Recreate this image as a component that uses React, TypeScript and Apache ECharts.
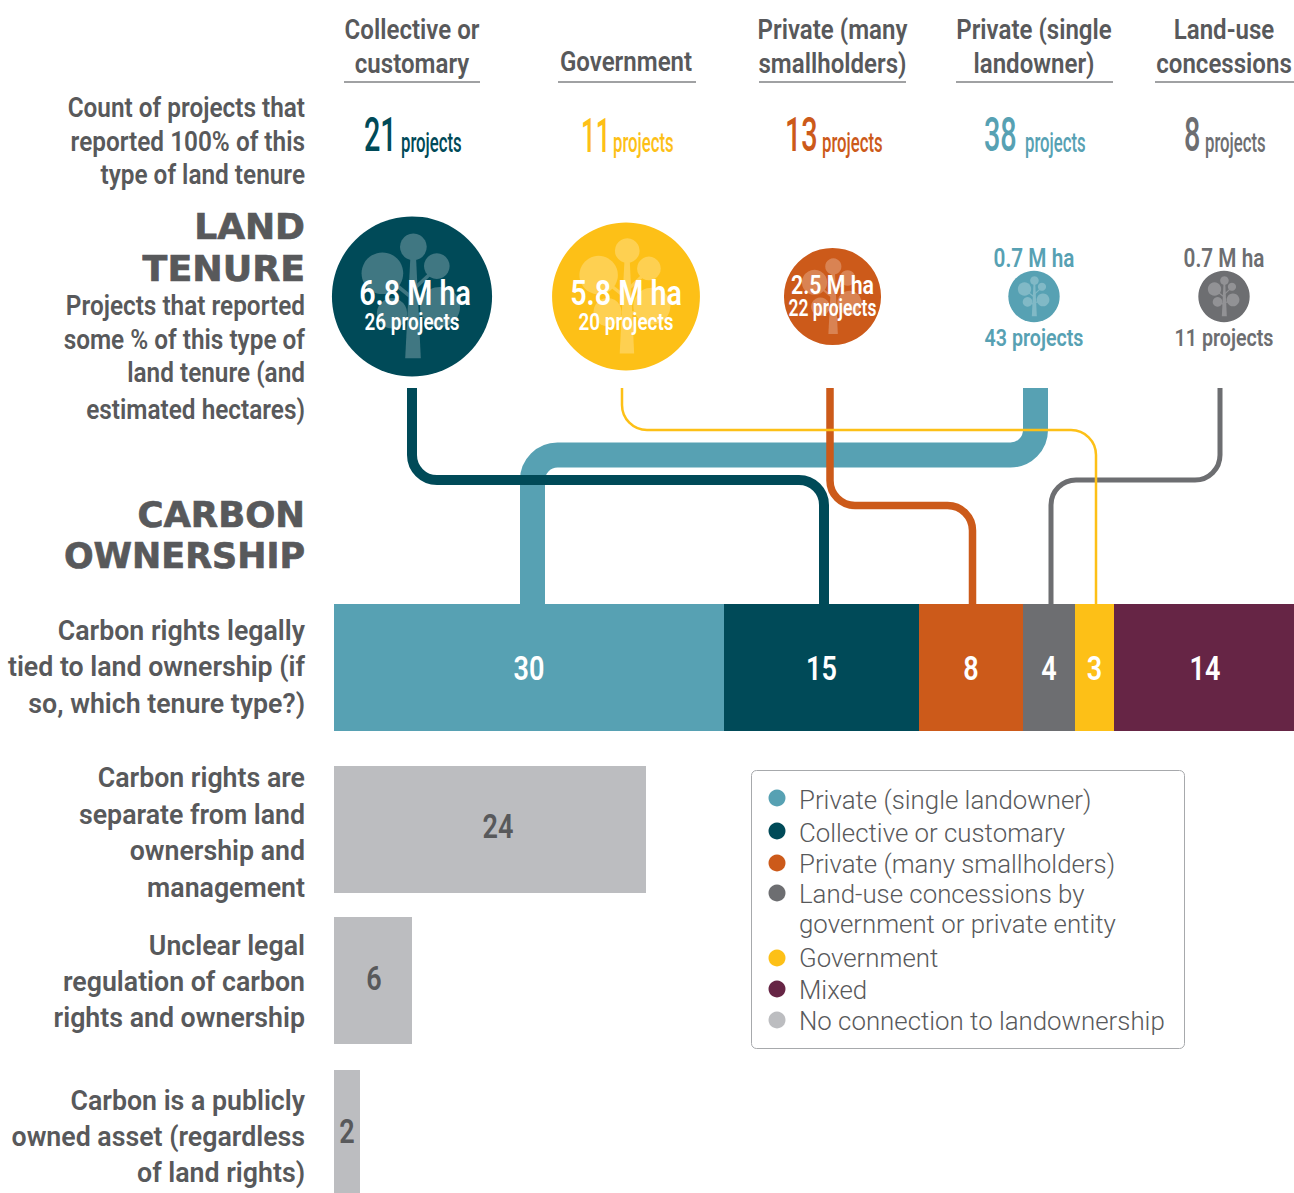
import React, { useEffect, useRef } from "react";
import * as echarts from "echarts";

const W = 1294;
const H = 1193;

// ---------- data ----------
const tenureHeaders = [["Collective or", "customary"], ["Government"], ["Private (many", "smallholders)"], ["Private (single", "landowner)"], ["Land-use", "concessions"]];
const fullCounts = [21, 11, 13, 38, 8];
const hectares = [6.8, 5.8, 2.5, 0.7, 0.7];
const partialCounts = [26, 20, 22, 43, 11];
const ownershipNames = ["Private (single landowner)", "Collective or customary", "Private (many smallholders)", "Land-use concessions", "Government", "Mixed"];
const ownershipValues = [30, 15, 8, 4, 3, 14];
const separateValue = [24];
const unclearValue = [6];
const publicValue = [2];
const legendLabels = ["Private (single landowner)", "Collective or customary", "Private (many smallholders)", "Land-use concessions by\ngovernment or private entity", "Government", "Mixed", "No connection to landownership"];

// ---------- style and layout ----------
const TEAL = "#57A1B3", DARK = "#004A58", ORANGE = "#CC5A1A", GRAY = "#6D6E71", YELLOW = "#FDC017", PURPLE = "#662545", LIGHT = "#BCBDC0", TEXT = "#58595B";
const tenureColors = [DARK, YELLOW, ORANGE, TEAL, GRAY];
const ownershipColors = [TEAL, DARK, ORANGE, GRAY, YELLOW, PURPLE];
const legendColors = [TEAL, DARK, ORANGE, GRAY, YELLOW, PURPLE, LIGHT];
const colX = [412, 626, 832.5, 1034, 1224];
const ruleX = [[344, 480], [558, 696], [759, 906], [956, 1113], [1155, 1294]];
const headerY = [[29, 63], [61], [29, 63], [29, 63], [29, 63]];
const countX = [[364, 401], [581, 613], [785, 822], [984, 1025], [1184, 1205]];
const rowTops = [[604, 127], [766, 127], [917, 127], [1070, 123]];
const rowNudge = [[0, 1], [8, -3], [1, -1.5], [0, 0]];
const BUBBLE_Y = 296.5;
const BUBBLE_K = 30.7;
const MAIN = "Roboto";
const WEIGHT = 600;
const UPPER = 0.86;
const LEFT_UPPER = 0.87;
const LOWER = 0.955;
const PX_PER_UNIT = 13;
const GRID_W = W - 334;

const connectors: [string, string, string, number][] = [
  ["c-teal", "M1035.5 388 V430 A25 25 0 0 1 1010.5 455 H557.5 A25 25 0 0 0 532.5 480 V604", TEAL, 25],
  ["c-dark", "M412 388 V455 A25 25 0 0 0 437 480 H799 A25 25 0 0 1 824 505 V604", DARK, 10],
  ["c-orange", "M830 388 V480.5 A25 25 0 0 0 855 505.5 H947.5 A25 25 0 0 1 972.5 530.5 V604", ORANGE, 7.5],
  ["c-gray", "M1220 388 V455 A25 25 0 0 1 1195 480 H1076 A25 25 0 0 0 1051 505 V604", GRAY, 5],
  ["c-yellow", "M622 388 V405 A25 25 0 0 0 647 430 H1071 A25 25 0 0 1 1096 455 V604", YELLOW, 2.5],
];
connectors.forEach(([name, d]) => echarts.graphic.registerShape(name, echarts.graphic.extendPath(d, {})));

function txt(text: string, x: number, y: number, o: any = {}) {
  return {
    type: "text", x, y, z: 50, scaleX: o.scale ?? UPPER, silent: true,
    style: {
      text, fill: o.color ?? TEXT, align: o.align ?? "right", verticalAlign: "middle",
      fontSize: o.size ?? 28, fontWeight: o.weight ?? WEIGHT, fontFamily: o.family ?? MAIN,
      ...(o.stroke ? { stroke: o.color ?? TEXT, lineWidth: o.stroke } : {}),
    },
  };
}

const mix = (hex: string, a: number) => {
  const n = parseInt(hex.slice(1), 16);
  const f = (v: number) => Math.round(v * (1 - a) + 255 * a);
  return `rgb(${f((n >> 16) & 255)},${f((n >> 8) & 255)},${f(n & 255)})`;
};

function renderBubble(params: any, api: any) {
  const [cx, cy] = api.coord([api.value(0), api.value(1)]);
  const r = BUBBLE_K * Math.sqrt(api.value(2));
  const base = tenureColors[params.dataIndex];
  const tree = mix(base, 0.25);
  const c = (dx: number, dy: number, rr: number, fill = tree) => ({ type: "circle", shape: { cx: cx + dx * r, cy: cy + dy * r, r: rr * r }, style: { fill } });
  const branch = (x1: number, y1: number, x2: number, y2: number) => ({ type: "line", shape: { x1: cx + x1 * r, y1: cy + y1 * r, x2: cx + x2 * r, y2: cy + y2 * r }, style: { stroke: tree, lineWidth: 0.045 * r, fill: "none" } });
  return {
    type: "group",
    children: [
      c(0, 0, 1, base),
      { type: "polygon", shape: { points: [[cx - 0.02 * r, cy - 0.5 * r], [cx + 0.05 * r, cy - 0.5 * r], [cx + 0.11 * r, cy + 0.77 * r], [cx - 0.085 * r, cy + 0.77 * r]] }, style: { fill: tree } },
      branch(0.03, -0.1, 0.3, -0.35), branch(0.03, 0.25, 0.3, 0.13), branch(-0.02, 0.0, -0.33, -0.25), branch(-0.02, 0.3, -0.22, 0.2),
      c(0.017, -0.62, 0.167), c(-0.37, -0.29, 0.26), c(0.31, -0.38, 0.16), c(0.35, 0.13, 0.25), c(-0.25, 0.21, 0.19),
    ],
  };
}

function labelSeries(row: number, data: number[][], color: string) {
  return {
    type: "custom", xAxisIndex: row, yAxisIndex: row, z: 6, clip: false, data, encode: { x: 0, y: 1 },
    renderItem: (_p: any, api: any) => {
      const [x, y] = api.coord([api.value(0), 0]);
      return {
        type: "text", x: x + rowNudge[row][0], y: y + rowNudge[row][1], scaleX: 0.82,
        style: { text: String(api.value(2)), fill: color, align: "center", verticalAlign: "middle", fontFamily: MAIN, fontWeight: WEIGHT, fontSize: 33 },
      };
    },
  };
}

function buildOption() {
  const g: any[] = [];
  const leftUpper: [string, number][] = [
    ["Count of projects that", 107], ["reported 100% of this", 141], ["type of land tenure", 174],
    ["Projects that reported", 305], ["some % of this type of", 339], ["land tenure (and", 372], ["estimated hectares)", 409],
  ];
  const leftLower: [string, number][] = [
    ["Carbon rights legally", 631], ["tied to land ownership (if", 667], ["so, which tenure type?)", 704],
    ["Carbon rights are", 778], ["separate from land", 815], ["ownership and", 851], ["management", 888],
    ["Unclear legal", 946], ["regulation of carbon", 982], ["rights and ownership", 1018],
    ["Carbon is a publicly", 1101], ["owned asset (regardless", 1137], ["of land rights)", 1173],
  ];
  leftUpper.forEach(([t, y]) => g.push(txt(t, 305, y, { scale: LEFT_UPPER })));
  leftLower.forEach(([t, y]) => g.push(txt(t, 305, y, { scale: LOWER })));
  const heads: [string, number, number][] = [["LAND", 226, 1], ["TENURE", 268.5, 1.01], ["CARBON", 514, 0.985], ["OWNERSHIP", 555, 0.97]];
  heads.forEach(([t, y, s]) => g.push(txt(t, 305, y, { family: "DejaVu Sans", weight: 700, size: 36, scale: s, stroke: 0.7 })));

  tenureHeaders.forEach((lines, i) => {
    lines.forEach((t, j) => g.push(txt(t, colX[i], headerY[i][j], { align: "center" })));
    g.push({ type: "line", z: 50, shape: { x1: ruleX[i][0], y1: 82, x2: ruleX[i][1], y2: 82 }, style: { stroke: "#808285", lineWidth: 1.5 } });
    const col = tenureColors[i];
    g.push(txt(String(fullCounts[i]), countX[i][0], 135, { align: "left", color: col, size: 48, weight: 500, scale: fullCounts[i] === 11 ? 0.54 : 0.6 }));
    g.push(txt("projects", countX[i][1], 142.5, { align: "left", color: col, size: 27, weight: 500, scale: 0.62 }));
    const ha = `${hectares[i].toFixed(1)} M ha`;
    const pr = `${partialCounts[i]} projects`;
    if (i < 2) {
      g.push(txt(ha, colX[i] + (i === 0 ? 3 : 0), 293, { align: "center", color: "#fff", size: 35, scale: 0.82 }));
      g.push(txt(pr, colX[i], 322, { align: "center", color: "#fff", size: 23, scale: 0.82 }));
    } else if (i === 2) {
      g.push(txt(ha, colX[i], 285, { align: "center", color: "#fff", size: 26, scale: 0.82 }));
      g.push(txt(pr, colX[i], 308, { align: "center", color: "#fff", size: 23, scale: 0.76 }));
    } else {
      g.push(txt(ha, colX[i], 259, { align: "center", color: col, size: 25, scale: 0.83 }));
      g.push(txt(pr, colX[i], 338, { align: "center", color: col, size: 24, scale: 0.82 }));
    }
  });

  connectors.forEach(([name, , stroke, lineWidth], i) => {
    g.push({ type: name, z: 10 + i, silent: true, style: { stroke, lineWidth, fill: "none" } });
  });

  g.push({ type: "rect", z: 5, shape: { x: 751.5, y: 770.5, width: 433, height: 278, r: 5 }, style: { fill: "#fff", stroke: "#A7A9AC", lineWidth: 1 } });
  const dotY = [798, 831, 863, 893, 958, 989, 1020];
  const textY = [[799.5], [832.5], [864], [894, 924], [958], [990], [1021]];
  legendLabels.forEach((t, i) => {
    g.push({ type: "circle", z: 6, shape: { cx: 777, cy: dotY[i], r: 8.5 }, style: { fill: legendColors[i] } });
    t.split("\n").forEach((line, j) => g.push(txt(line, 799, textY[i][j], { align: "left", size: 26, weight: 300, scale: 0.994 })));
  });

  const grids = rowTops.map(([top, height]) => ({ left: 334, top, width: GRID_W, height }));
  const xAxes = rowTops.map((_, i) => ({ type: "value", gridIndex: i, min: 0, max: GRID_W / PX_PER_UNIT, show: false }));
  const yAxes = rowTops.map((_, i) => ({ type: "category", gridIndex: i, data: ["row"], show: false }));

  const series: any[] = [];
  ownershipNames.forEach((name, i) => {
    series.push({
      type: "bar", name, stack: "own", xAxisIndex: 0, yAxisIndex: 0, barWidth: "100%", clip: true,
      data: [ownershipValues[i]], itemStyle: { color: ownershipColors[i] },
    });
  });
  let running = 0;
  const mids = ownershipValues.map((v) => {
    const m = running + v / 2;
    running += v;
    return [m, 0, v];
  });
  series.push(labelSeries(0, mids, "#fff"));
  [separateValue, unclearValue, publicValue].forEach((data, i) => {
    series.push({
      type: "bar", name: "No connection", xAxisIndex: i + 1, yAxisIndex: i + 1, barWidth: "100%",
      data, itemStyle: { color: LIGHT },
    });
    series.push(labelSeries(i + 1, [[data[0] / 2, 0, data[0]]], TEXT));
  });
  series.push({
    type: "custom", xAxisIndex: 4, yAxisIndex: 4, clip: false, renderItem: renderBubble, z: 3,
    data: hectares.map((h, i) => [colX[i], BUBBLE_Y, h]), encode: { x: 0, y: 1 },
  });

  return {
    animation: false,
    backgroundColor: "#fff",
    grid: [...grids, { left: 0, top: 0, width: W, height: H }],
    xAxis: [...xAxes, { type: "value", gridIndex: 4, min: 0, max: W, show: false }],
    yAxis: [...yAxes, { type: "value", gridIndex: 4, min: 0, max: H, inverse: true, show: false }],
    series,
    graphic: { elements: g },
  };
}

export default function App() {
  const ref = useRef<HTMLDivElement>(null);
  useEffect(() => {
    const chart = echarts.init(ref.current!, undefined, { renderer: "svg" });
    chart.setOption(buildOption() as any);
    return () => chart.dispose();
  }, []);
  return <div ref={ref} style={{ position: "absolute", left: 0, top: 0, width: W, height: H }} />;
}
